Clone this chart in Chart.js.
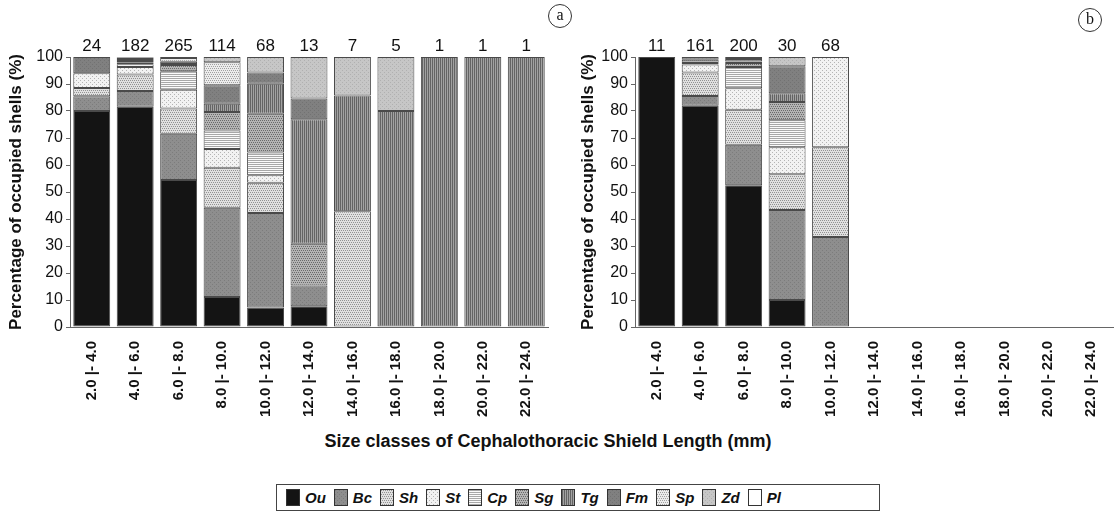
<!DOCTYPE html>
<html>
<head>
<meta charset="utf-8">
<script src="https://cdn.jsdelivr.net/npm/chart.js@4"></script>
<style>
  body { margin: 0; background: #fff; }
  #wrap { position: relative; width: 1120px; height: 514px; font-family: "Liberation Sans", Arial, sans-serif; }
  canvas.chart { position: absolute; top: 0; }
  #xTitle { position: absolute; left: 0; width: 1096px; top: 431px; text-align: center; font-weight: bold; font-size: 18px; color: #111; }
  .panel { position: absolute; width: 22px; height: 22px; border: 1px solid #333; border-radius: 50%;
           font-family: "Liberation Serif", serif; font-size: 16px; text-align: center; line-height: 20px; color: #111; }
  #legend { position: absolute; left: 276px; top: 484px; width: 604px; height: 27px; border: 1px solid #444;
            display: flex; align-items: center; padding-left: 9px; box-sizing: border-box; }
  .item { display: flex; align-items: center; margin-right: 8px; }
  .item canvas { border: 1px solid #333; }
  .item span { margin-left: 5px; font-weight: bold; font-style: italic; font-size: 15px; color: #111; }
</style>
</head>
<body>
<div id="wrap">
  <canvas id="chartA" class="chart" width="560" height="430" style="left:0"></canvas>
  <canvas id="chartB" class="chart" width="560" height="430" style="left:560px"></canvas>
  <div class="panel" style="left:548px; top:4px">a</div>
  <div class="panel" style="left:1078px; top:8px">b</div>
  <div id="xTitle">Size classes of Cephalothoracic Shield Length (mm)</div>
  <div id="legend"></div>
</div>
<script>
// size classes (mm)
let sizeClasses = ["2.0 |- 4.0", "4.0 |- 6.0", "6.0 |- 8.0", "8.0 |- 10.0", "10.0 |- 12.0", "12.0 |- 14.0",
  "14.0 |- 16.0", "16.0 |- 18.0", "18.0 |- 20.0", "20.0 |- 22.0", "22.0 |- 24.0"];

// number of shells per class
let countsA = [24, 182, 265, 114, 68, 13, 7, 5, 1, 1, 1];
let countsB = [11, 161, 200, 30, 68, null, null, null, null, null, null];

let speciesNames = ["Ou", "Bc", "Sh", "St", "Cp", "Sg", "Tg", "Fm", "Sp", "Zd", "Pl"];

// panel (a) — percentage per shell species
let ouA = [80, 81.6, 54.4, 11.1, 7.2, 7.7, null, null, null, null, null];
let bcA = [5.5, 5.8, 17.2, 33.1, 35.0, 7.7, null, null, null, null, null];
let shA = [3, 6.1, 9.3, 14.8, 11.2, null, 42.9, null, null, null, null];
let stA = [5.5, 2.8, 7.0, 6.9, 2.8, null, null, null, null, null, null];
let cpA = [null, 1.0, 6.8, 6.9, 8.4, null, null, null, null, null, null];
let sgA = [null, 0.8, 2.3, 6.8, 14.4, 15.4, null, null, null, null, null];
let tgA = [null, 0.4, 0.4, 3.1, 11.1, 46.1, 42.8, 80, 100, 100, 100];
let fmA = [6, 0.8, 0.8, 6.8, 4.2, 7.7, null, null, null, null, null];
let spA = [null, 0.5, 1.4, 8.6, null, null, null, null, null, null, null];
let zdA = [null, 0.2, 0.4, 1.9, 5.7, 15.4, 14.3, 20, null, null, null];
let plA = [null, null, null, null, null, null, null, null, null, null, null];

// panel (b)
let ouB = [100, 81.9, 52.5, 10, null, null, null, null, null, null, null];
let bcB = [null, 3.7, 15.0, 33.3, 33.3, null, null, null, null, null, null];
let shB = [null, 8.7, 13.0, 13.3, 33.3, null, null, null, null, null, null];
let stB = [null, 2.9, 7.9, 10, 33.4, null, null, null, null, null, null];
let cpB = [null, 0.6, 7.9, 10, null, null, null, null, null, null, null];
let sgB = [null, 1.2, 1.5, 6.7, null, null, null, null, null, null, null];
let tgB = [null, null, 0.5, 3.3, null, null, null, null, null, null, null];
let fmB = [null, 1.0, 1.0, 10, null, null, null, null, null, null, null];
let spB = [null, null, 0.7, null, null, null, null, null, null, null, null];
let zdB = [null, null, null, 3.4, null, null, null, null, null, null, null];
let plB = [null, null, null, null, null, null, null, null, null, null, null];

// Build a small repeating fill pattern
function makePattern(bg, kind, fg) {
  let c = document.createElement("canvas");
  c.width = 4; c.height = 4;
  let g = c.getContext("2d");
  g.fillStyle = bg;
  g.fillRect(0, 0, 4, 4);
  g.fillStyle = fg;
  if (kind === "dots") {
    g.fillRect(0, 0, 1, 1); g.fillRect(2, 2, 1, 1);
  } else if (kind === "dense") {
    g.fillRect(0, 0, 1, 1); g.fillRect(2, 0, 1, 1); g.fillRect(1, 2, 1, 1); g.fillRect(3, 2, 1, 1);
  } else if (kind === "hlines") {
    g.fillRect(0, 0, 4, 1); g.fillRect(0, 2, 4, 1);
  } else if (kind === "vlines") {
    g.fillRect(0, 0, 1, 4); g.fillRect(2, 0, 1, 4);
  }
  return g.createPattern(c, "repeat");
}

let fills = [
  "#141414",                                   // Ou
  makePattern("#8e8e8e", "dots", "#7c7c7c"),   // Bc
  makePattern("#e0e0e0", "dense", "#929292"),  // Sh
  makePattern("#f2f2f2", "dots", "#b4b4b4"),   // St
  makePattern("#fbfbfb", "hlines", "#a8a8a8"), // Cp
  makePattern("#b4b4b4", "dense", "#6a6a6a"),  // Sg
  makePattern("#a2a2a2", "vlines", "#646464"), // Tg
  makePattern("#808080", "dots", "#727272"),   // Fm
  makePattern("#ececec", "dense", "#a0a0a0"),  // Sp
  makePattern("#c6c6c6", "dots", "#b0b0b0"),   // Zd
  "#ffffff",                                   // Pl
];

function buildDatasets(series) {
  return series.map(function (data, i) {
    return {
      label: speciesNames[i],
      data: data,
      backgroundColor: fills[i],
      borderColor: "#4a4a4a",
      borderWidth: 1,
      borderSkipped: false,
      categoryPercentage: 1,
      barPercentage: 0.85,
    };
  });
}

// Draws the shell counts over each bar
let countLabels = {
  id: "countLabels",
  afterDatasetsDraw: function (chart, args, opts) {
    let ctx = chart.ctx;
    let xs = chart.scales.x, ys = chart.scales.y;
    ctx.save();
    ctx.font = "17px 'Liberation Sans', Arial";
    ctx.fillStyle = "#111";
    ctx.textAlign = "center";
    ctx.textBaseline = "bottom";
    opts.counts.forEach(function (n, i) {
      if (n === null) return;
      ctx.fillText(String(n), xs.getPixelForValue(i), ys.getPixelForValue(100) - 2);
    });
    ctx.restore();
  },
};

function drawPanel(canvasId, series, counts, padLeft, yWidth, padRight) {
  let ctx = document.getElementById(canvasId).getContext("2d");
  return new Chart(ctx, {
    type: "bar",
    data: { labels: sizeClasses, datasets: buildDatasets(series) },
    plugins: [countLabels],
    options: {
      responsive: false,
      animation: false,
      devicePixelRatio: 1,
      layout: { padding: { left: padLeft, right: padRight, top: 57, bottom: 0 } },
      plugins: {
        legend: { display: false },
        tooltip: { enabled: false },
        countLabels: { counts: counts },
      },
      scales: {
        x: {
          stacked: true,
          grid: { display: false },
          border: { display: true, color: "#666", width: 1 },
          ticks: {
            minRotation: 90, maxRotation: 90, padding: 6, color: "#111",
            font: { family: "'Liberation Sans', Arial", size: 15, weight: "bold" },
          },
          afterFit: function (s) { s.height = 103; },
        },
        y: {
          stacked: true,
          min: 0, max: 100,
          grid: { drawOnChartArea: false, tickLength: 4, color: "#666" },
          border: { display: true, color: "#666", width: 1 },
          ticks: {
            stepSize: 10, padding: 3, color: "#111",
            font: { family: "'Liberation Sans', Arial", size: 16 },
          },
          title: {
            display: true,
            text: "Percentage of occupied shells (%)",
            color: "#111",
            padding: { top: 6, bottom: 0 },
            font: { family: "'Liberation Sans', Arial", size: 17, weight: "bold" },
          },
          afterFit: function (s) { s.width = yWidth; },
        },
      },
    },
  });
}

drawPanel("chartA", [ouA, bcA, shA, stA, cpA, sgA, tgA, fmA, spA, zdA, plA], countsA, 0, 70, 12);
drawPanel("chartB", [ouB, bcB, shB, stB, cpB, sgB, tgB, fmB, spB, zdB, plB], countsB, 12, 63, 7);

// Shared legend with pattern swatches
let legend = document.getElementById("legend");
speciesNames.forEach(function (name, i) {
  let item = document.createElement("div");
  item.className = "item";
  let sw = document.createElement("canvas");
  sw.width = 12; sw.height = 15;
  let g = sw.getContext("2d");
  g.fillStyle = fills[i];
  g.fillRect(0, 0, 12, 15);
  let label = document.createElement("span");
  label.textContent = name;
  item.appendChild(sw);
  item.appendChild(label);
  legend.appendChild(item);
});
</script>
</body>
</html>
